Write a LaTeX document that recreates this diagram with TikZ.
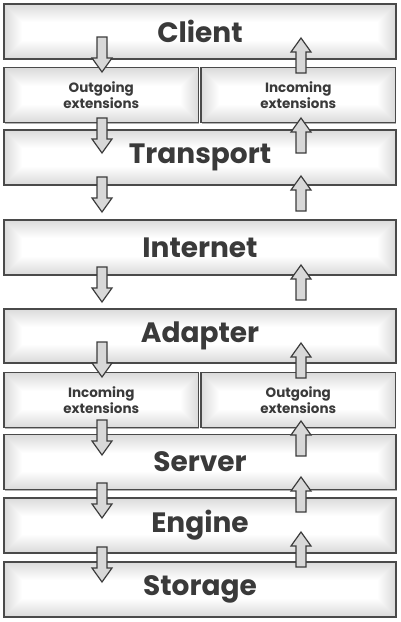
\documentclass[tikz,border=0pt]{standalone}
\usepackage{fontspec}
\setmainfont{Poppins}
\usetikzlibrary{shadows}
\definecolor{edge}{HTML}{4A4A4A}
\definecolor{txt}{HTML}{3A3A3A}
\definecolor{arrfill}{HTML}{D8D8D8}
\definecolor{arredge}{HTML}{3C3C3C}
\tikzset{
  layer/.style={draw=edge, line width=1.5pt, fill=white,
    path picture={\foreach \i in {1,...,18}{\draw[black, opacity=0.009, line join=round, line width=2*\i pt]
        (path picture bounding box.south west) rectangle (path picture bounding box.north east);}},
    minimum width=392pt, minimum height=55pt, inner sep=0pt, font=\fontsize{28}{30}\selectfont\bfseries, text=txt,
    drop shadow={shadow xshift=0.8pt, shadow yshift=-1.2pt, opacity=0.3, fill=black}},
  extbox/.style={layer, minimum width=194.5pt, align=center, font=\fontsize{13.5}{16.5}\selectfont\bfseries},
  blockarrow/.style={draw=arredge, fill=arrfill, line width=1.2pt, line join=miter},
  pics/downarr/.style={code={\draw[blockarrow] (-5,0) -- (5,0) -- (5,21) -- (10,21) -- (0,35) -- (-10,21) -- (-5,21) -- cycle;}},
  pics/uparr/.style={code={\draw[blockarrow] (-5,35) -- (5,35) -- (5,14) -- (10,14) -- (0,0) -- (-10,14) -- (-5,14) -- cycle;}}
}
\begin{document}
\begin{tikzpicture}[x=1pt, y=-1pt]
\useasboundingbox (0,0) rectangle (400,622);
\fill[white] (0,0) rectangle (400,622);
\node[layer] (client) at (200,31.5) {Client};
\node[extbox] (outA) at (101.25,95) {Outgoing\\extensions};
\node[extbox] (inA) at (298.25,95) {Incoming\\extensions};
\node[layer] (transport) at (200,157.5) {Transport};
\node[layer] (internet) at (200,247.5) {Internet};
\node[layer, minimum height=54pt] (adapter) at (200,336) {Adapter};
\node[extbox] (inB) at (101.25,400) {Incoming\\extensions};
\node[extbox] (outB) at (298.25,400) {Outgoing\\extensions};
\node[layer] (server) at (200,462) {Server};
\node[layer] (engine) at (200,525.5) {Engine};
\node[layer] (storage) at (200,589.5) {Storage};
% down arrows
\foreach \y in {37,118,177,267,342,420,483,547} \pic at (102,\y) {downarr};
% up arrows
\foreach \y in {38,118,176,265,343,421,477,532} \pic at (301,\y) {uparr};
\end{tikzpicture}
\end{document}
